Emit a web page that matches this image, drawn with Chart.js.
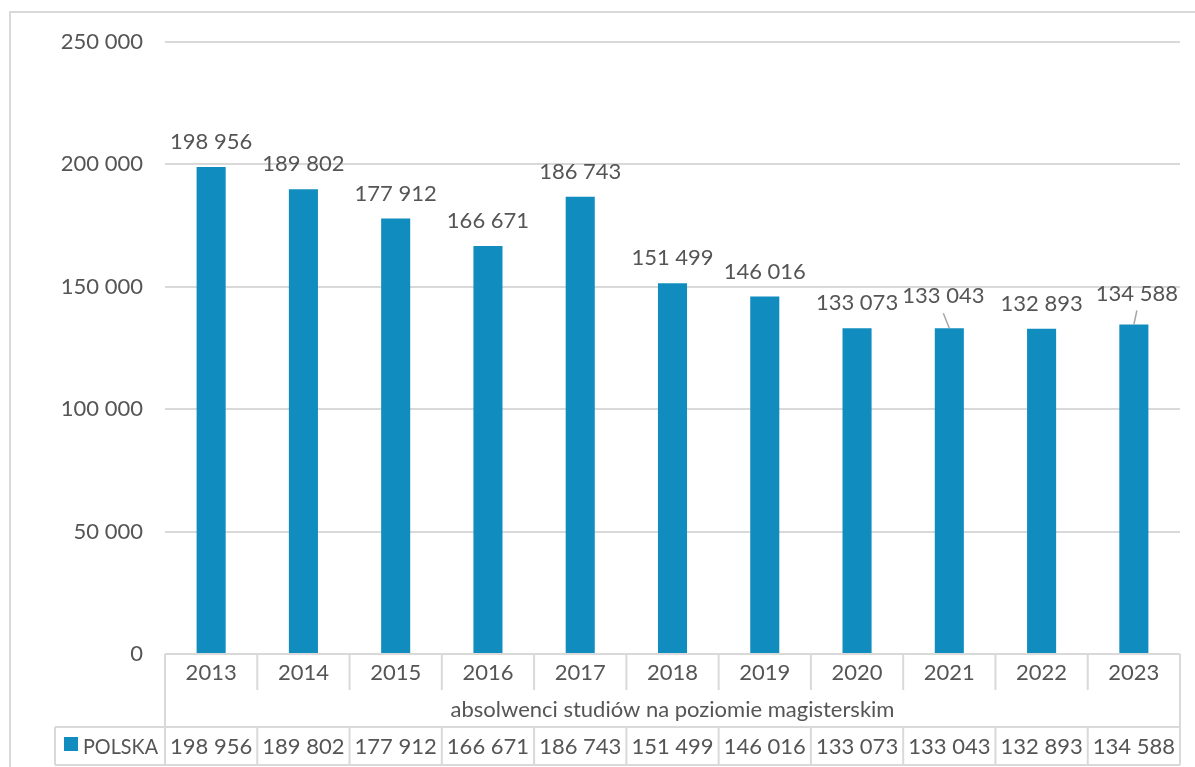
<!DOCTYPE html>
<html>
<head>
<meta charset="utf-8">
<script src="https://cdn.jsdelivr.net/npm/chart.js@4"></script>
<style>
  html, body { margin: 0; padding: 0; background: #ffffff; }
  canvas { display: block; }
</style>
</head>
<body>
<canvas id="c" width="1195" height="767"></canvas>
<script>
// ---- data ----
const years = ['2013', '2014', '2015', '2016', '2017', '2018', '2019', '2020', '2021', '2022', '2023'];
const graduates = [198956, 189802, 177912, 166671, 186743, 151499, 146016, 133073, 133043, 132893, 134588];
const yTickValues = [0, 50000, 100000, 150000, 200000, 250000];
const seriesTitle = 'absolwenci studiów na poziomie magisterskim';
const legendName = 'POLSKA';

const fmt = v => String(v).replace(/\B(?=(\d{3})+(?!\d))/g, ' ');

const FONT_FAMILY = 'Lato, "Open Sans", sans-serif';
const FONT_SIZE = 22;
const TEXT = '#555555';
const GRID = '#d9d9d9';
const BAR = '#108cbf';

const frameBorder = {
  id: 'frameBorder',
  beforeDraw(chart) {
    const ctx = chart.ctx;
    ctx.save();
    ctx.fillStyle = '#ffffff';
    ctx.fillRect(0, 0, chart.width, chart.height);
    ctx.strokeStyle = GRID;
    ctx.lineWidth = 2;
    ctx.strokeRect(10, 12, chart.width + 20, chart.height + 20);
    ctx.restore();
  }
};

const dataLabels = {
  id: 'dataLabels',
  afterDatasetsDraw(chart, args, opts) {
    const ctx = chart.ctx;
    const meta = chart.getDatasetMeta(0);
    ctx.save();
    ctx.font = `${FONT_SIZE}px ${FONT_FAMILY}`;
    ctx.fillStyle = TEXT;
    ctx.textAlign = 'center';
    ctx.textBaseline = 'middle';
    meta.data.forEach((bar, i) => {
      const off = opts.offsets[i] || [0, -25];
      const lx = bar.x + off[0];
      const ly = bar.y + off[1];
      ctx.fillText(fmt(chart.data.datasets[0].data[i]), lx, ly);
      if (opts.offsets[i]) {
        ctx.strokeStyle = '#a6a6a6';
        ctx.lineWidth = 1.5;
        ctx.beginPath();
        ctx.moveTo(lx, ly + 17);
        ctx.lineTo(bar.x, bar.y);
        ctx.stroke();
      }
    });
    ctx.restore();
  }
};

const dataTable = {
  id: 'dataTable',
  afterDraw(chart) {
    const ctx = chart.ctx;
    const xs = chart.scales.x;
    const area = chart.chartArea;
    const n = years.length;
    const w = (area.right - area.left) / n;
    const r1Top = area.bottom, r1Bot = r1Top + 36;
    const r2Bot = r1Bot + 37;
    const r3Bot = r2Bot + 38;
    const legLeft = 55;
    ctx.save();
    ctx.strokeStyle = GRID;
    ctx.lineWidth = 2;
    const line = (x1, y1, x2, y2) => { ctx.beginPath(); ctx.moveTo(x1, y1); ctx.lineTo(x2, y2); ctx.stroke(); };
    // horizontals
    line(area.left, r1Top, area.right, r1Top);
    line(legLeft, r2Bot, area.right, r2Bot);
    line(legLeft, r3Bot, area.right, r3Bot);
    // outer verticals
    line(area.left, r1Top, area.left, r3Bot);
    line(area.right, r1Top, area.right, r3Bot);
    line(legLeft, r2Bot, legLeft, r3Bot);
    // inner verticals
    for (let i = 1; i < n; i++) {
      const x = area.left + i * w;
      line(x, r1Top, x, r1Bot);
      line(x, r2Bot, x, r3Bot);
    }
    ctx.font = `${FONT_SIZE}px ${FONT_FAMILY}`;
    ctx.fillStyle = TEXT;
    ctx.textAlign = 'center';
    ctx.textBaseline = 'middle';
    years.forEach((y, i) => {
      const cx = xs.getPixelForValue(i);
      ctx.fillText(y, cx, (r1Top + r1Bot) / 2 + 1);
      ctx.fillText(fmt(graduates[i]), cx, (r2Bot + r3Bot) / 2 + 1, w - 6);
    });
    ctx.fillText(seriesTitle, (area.left + area.right) / 2, (r1Bot + r2Bot) / 2 + 1);
    // legend key
    ctx.fillStyle = BAR;
    ctx.fillRect(64, 737, 14, 14);
    ctx.fillStyle = TEXT;
    ctx.textAlign = 'left';
    ctx.fillText(legendName, 83, (r2Bot + r3Bot) / 2 + 1, 75);
    ctx.restore();
  }
};

new Chart(document.getElementById('c'), {
  type: 'bar',
  data: {
    labels: years,
    datasets: [{
      label: legendName,
      data: graduates,
      backgroundColor: BAR,
      borderWidth: 0,
      barPercentage: 0.315,
      categoryPercentage: 1.0
    }]
  },
  options: {
    responsive: false,
    animation: false,
    devicePixelRatio: 1,
    layout: { padding: { left: 0, top: 42, right: 15, bottom: 113 } },
    plugins: {
      legend: { display: false },
      tooltip: { enabled: false },
      dataLabels: { offsets: { 8: [-6, -32], 10: [3, -31] } }
    },
    scales: {
      x: { display: false },
      y: {
        min: 0,
        max: 250000,
        afterFit(scale) { scale.width = 165; },
        afterBuildTicks(scale) { scale.ticks = yTickValues.map(v => ({ value: v })); },
        ticks: {
          color: TEXT,
          padding: 22,
          font: { family: FONT_FAMILY, size: FONT_SIZE },
          callback: v => fmt(v)
        },
        grid: { color: GRID, lineWidth: 2, drawTicks: false },
        border: { display: false }
      }
    }
  },
  plugins: [frameBorder, dataLabels, dataTable]
});
</script>
</body>
</html>
